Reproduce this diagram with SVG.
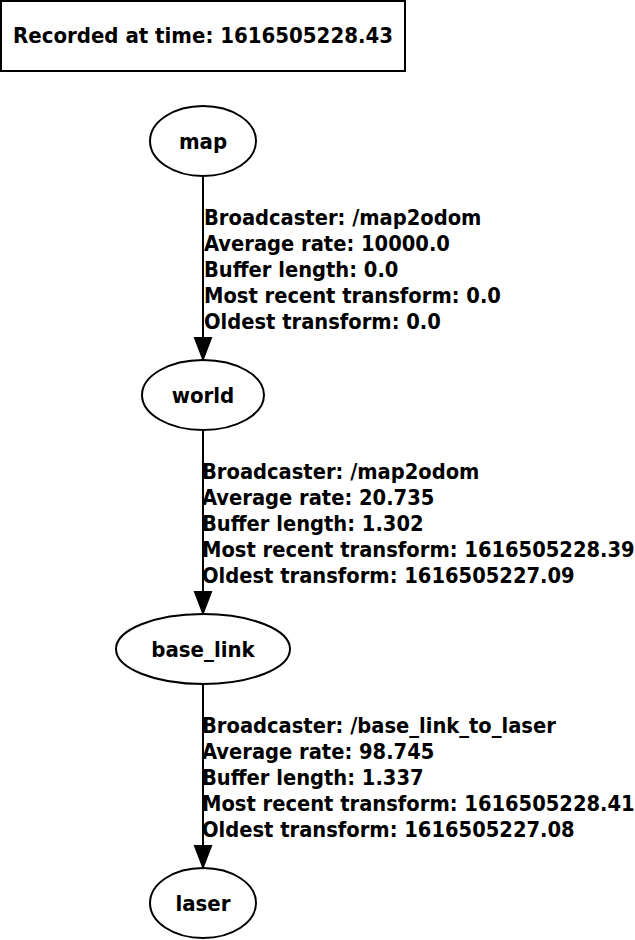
<svg xmlns="http://www.w3.org/2000/svg" width="635" height="940" viewBox="0 0 635 940">
<style>
text { font-family: "DejaVu Sans Condensed", "DejaVu Sans", sans-serif; font-stretch: condensed; font-weight: bold; font-size: 22px; fill: #000; }
.n { text-anchor: middle; }
.l { font-size: 21.7px; }
ellipse, rect { fill: none; stroke: #000; stroke-width: 2; }
.e { stroke: #000; stroke-width: 2; fill: none; }
.ah { fill: #000; stroke: #000; stroke-width: 2; }
</style>
<rect x="0" y="0" width="635" height="940" style="stroke:none;fill:#fff"/>
<g id="legend">
<rect x="1" y="1" width="404" height="70"/>
<text class="n" x="203" y="43">Recorded at time: 1616505228.43</text>
</g>
<g id="map">
<ellipse cx="203" cy="141" rx="53" ry="35"/>
<text class="n" x="203" y="149">map</text>
</g>
<g id="world">
<ellipse cx="203" cy="395" rx="61" ry="35"/>
<text class="n" x="203" y="403">world</text>
</g>
<g id="base_link">
<ellipse cx="203" cy="649" rx="87" ry="35"/>
<text class="n" x="203" y="657">base_link</text>
</g>
<g id="laser">
<ellipse cx="203" cy="903" rx="53" ry="35"/>
<text class="n" x="203" y="911">laser</text>
</g>
<g id="connectors">
<path class="e" d="M203,176 V338"/>
<polygon class="ah" points="195,338 211,338 203,359"/>
<text class="l" x="204" y="224.5">Broadcaster: /map2odom</text>
<text class="l" x="204" y="250.5">Average rate: 10000.0</text>
<text class="l" x="204" y="276.5">Buffer length: 0.0</text>
<text class="l" x="204" y="302.5">Most recent transform: 0.0</text>
<text class="l" x="204" y="328.5">Oldest transform: 0.0</text>
<path class="e" d="M203,430 V592"/>
<polygon class="ah" points="195,592 211,592 203,613"/>
<text class="l" x="202" y="478.5">Broadcaster: /map2odom</text>
<text class="l" x="202" y="504.5">Average rate: 20.735</text>
<text class="l" x="202" y="530.5">Buffer length: 1.302</text>
<text class="l" x="202" y="556.5">Most recent transform: 1616505228.39</text>
<text class="l" x="202" y="582.5">Oldest transform: 1616505227.09</text>
<path class="e" d="M203,684 V846"/>
<polygon class="ah" points="195,846 211,846 203,867"/>
<text class="l" x="202" y="732.5">Broadcaster: /base_link_to_laser</text>
<text class="l" x="202" y="758.5">Average rate: 98.745</text>
<text class="l" x="202" y="784.5">Buffer length: 1.337</text>
<text class="l" x="202" y="810.5">Most recent transform: 1616505228.41</text>
<text class="l" x="202" y="836.5">Oldest transform: 1616505227.08</text>
</g>
</svg>
